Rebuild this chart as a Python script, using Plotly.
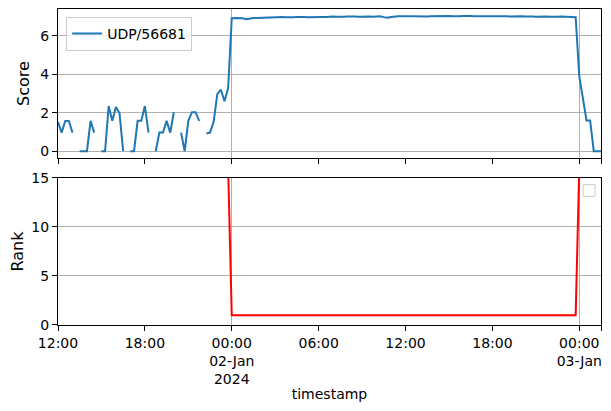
import pandas as pd
import plotly.graph_objects as go
from plotly.subplots import make_subplots

start = "2024-01-01 12:00"
n_points = 151
timestamps = pd.date_range(start, periods=n_points, freq="15min")

score_jan1 = [
    1.53, 0.97, 1.57, 1.57, 0.97, None,
    0, 0, 0, 1.58, 0.97, None,
    0, 0, 2.35, 1.58, 2.3, 1.97, 0, None,
    0, 0, 1.58, 1.58, 2.35, 0.97, None,
    0, 0.97, 0.97, 1.58, 0.97, 2.03, None,
    0.97, 0, 1.58, 2.03, 2.03, 1.58, None,
    0.92, 0.97, 1.53, 2.97, 3.2, 2.6, 3.3,
]
score_jan2 = [
    6.92, 6.93, 6.94, 6.92, 6.87, 6.91, 6.93, 6.94, 6.95, 6.96, 6.95, 6.96,
    6.97, 6.97, 6.98, 6.97, 6.96, 6.97, 6.98, 6.99, 6.98, 6.97, 6.98, 6.99,
    7.00, 6.99, 6.98, 7.00, 7.01, 7.00, 6.99, 7.00, 7.01, 7.02, 7.01, 7.00,
    7.01, 7.02, 7.01, 7.00, 7.01, 7.02, 6.98, 6.95, 6.99, 7.02, 7.03, 7.02,
    7.01, 7.02, 7.03, 7.02, 7.01, 7.00, 7.01, 7.02, 7.03, 7.03, 7.02, 7.03,
    7.04, 7.03, 7.02, 7.03, 7.04, 7.05, 7.04, 7.03, 7.04, 7.03, 7.02, 7.03,
    7.04, 7.03, 7.02, 7.03, 7.02, 7.01, 7.02, 7.03, 7.02, 7.01, 7.02, 7.01,
    7.00, 7.01, 7.02, 7.01, 7.00, 6.99, 7.00, 7.01, 7.00, 6.99, 6.98, 6.97,
]
score_jan3 = [3.9, 2.75, 1.6, 1.6, 0, 0, 0]
score = score_jan1 + score_jan2 + score_jan3

rank_jan1 = [
    24, 25, 24, 23, 24, 26, 27, 26, 25, 24, 25, 26,
    27, 26, 22, 23, 22, 23, 26, 27, 26, 26, 24, 24,
    22, 25, 27, 27, 25, 25, 24, 25, 23, 26, 25, 27,
    24, 23, 23, 24, 26, 22, 21, 20, 18, 17, 18, 16,
]
rank_jan2 = [1] * 96
rank_jan3 = [16, 18, 21, 21, 30, 30, 30]
rank = rank_jan1 + rank_jan2 + rank_jan3

tick_vals = ["2024-01-01 12:00", "2024-01-01 18:00", "2024-01-02 00:00",
             "2024-01-02 06:00", "2024-01-02 12:00", "2024-01-02 18:00",
             "2024-01-03 00:00", "2024-01-03 01:30"]
tick_text = ["12:00", "18:00", "00:00<br>02-Jan<br>2024", "06:00", "12:00",
             "18:00", "00:00<br>03-Jan", ""]
major_vals = ["2024-01-02 00:00", "2024-01-03 00:00"]

FONT = "DejaVu Sans"
BLUE = "#1f77b4"
GRID = "#b0b0b0"

fig = make_subplots(rows=2, cols=1, shared_xaxes=True, vertical_spacing=0.06)

fig.add_trace(go.Scatter(x=timestamps, y=score, mode="lines", name="UDP/56681",
                         line=dict(color=BLUE, width=2), connectgaps=False),
              row=1, col=1)
fig.add_trace(go.Scatter(x=timestamps, y=rank, mode="lines", name="Rank",
                         line=dict(color="red", width=2), showlegend=False),
              row=2, col=1)

valid = [v for v in score if v is not None]
smin, smax = min(valid), max(valid)
pad = 0.05 * (smax - smin)

xcommon = dict(
    range=[timestamps[0], timestamps[-1]], automargin=False,
    tickmode="array", tickvals=tick_vals, ticktext=tick_text,
    showgrid=False, showline=True, linecolor="black", linewidth=1, mirror=True,
    ticks="outside", ticklen=5, tickcolor="black", tickwidth=1,
    minor=dict(tickmode="array", tickvals=major_vals, showgrid=True,
               gridcolor=GRID, gridwidth=1, ticks=""),
    zeroline=False,
)
ycommon = dict(
    automargin=False,
    showgrid=True, gridcolor=GRID, gridwidth=1, zeroline=False,
    showline=True, linecolor="black", linewidth=1, mirror=True,
    ticks="outside", ticklen=5, tickcolor="black", tickwidth=1,
)

fig.update_xaxes(**xcommon)
fig.update_xaxes(showticklabels=False, row=1, col=1)
fig.update_xaxes(title=dict(text="timestamp", standoff=2, font=dict(size=14)),
                 row=2, col=1)
fig.update_yaxes(**ycommon)
fig.update_yaxes(range=[smin - pad, smax + pad], dtick=2, tick0=0,
                 title=dict(text="Score", standoff=6, font=dict(size=16)),
                 row=1, col=1)
fig.update_yaxes(range=[0, 15], dtick=5, tick0=0,
                 title=dict(text="Rank", standoff=3, font=dict(size=16)),
                 row=2, col=1)

fig.update_layout(
    xaxis=dict(domain=[0, 1]),
    yaxis=dict(domain=[0.5285, 1.0]),
    yaxis2=dict(domain=[0.0, 0.4652]),
)

# empty legend box of the lower panel
fig.add_shape(type="rect", xref="x2 domain", yref="y2 domain",
              x0=0.967, x1=0.989, y0=0.875, y1=0.955,
              line=dict(color="#cccccc", width=1), fillcolor="white")

fig.update_layout(
    width=611, height=411,
    margin=dict(l=58, r=10, t=9, b=86, autoexpand=False),
    paper_bgcolor="white", plot_bgcolor="white",
    font=dict(family=FONT, size=14, color="black"),
    showlegend=True,
    legend=dict(x=0.015, y=0.975, xanchor="left", yanchor="top",
                bgcolor="rgba(255,255,255,0.8)", bordercolor="#cccccc",
                borderwidth=1, font=dict(size=14), itemwidth=30,
                tracegroupgap=0),
)

fig.write_html("out.html",
               config={"displayModeBar": False},
               post_script="document.body.style.margin='0';"
                           "document.body.style.overflow='hidden';")
